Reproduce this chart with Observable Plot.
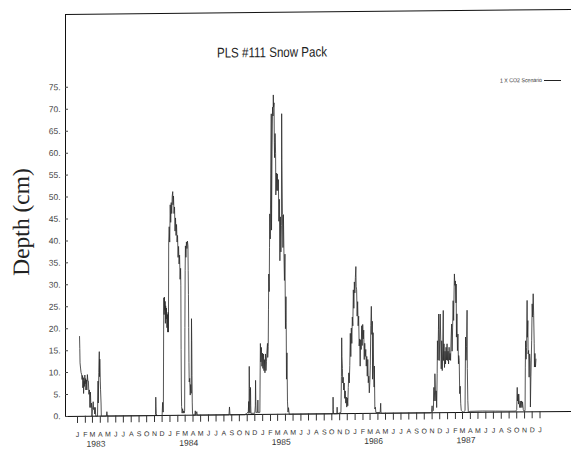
<!DOCTYPE html>
<html>
<head>
<meta charset="utf-8">
<script src="https://cdn.jsdelivr.net/npm/d3@7"></script>
<script src="https://cdn.jsdelivr.net/npm/@observablehq/plot@0.6"></script>
<style>
  html, body { margin: 0; padding: 0; background: #fff; }
  #chart svg { display: block; transform: skewY(-0.573deg); transform-origin: 285.5px 226px; }
</style>
</head>
<body>
<div id="chart"></div>
<script>
// ---- data: [day offset from 1983-01-01, snow depth in cm] ----
const startDate = "1983-01-01";
const winter1983 = [[8,18.2],[9,15.5],[10,12.2],[12,11],[14,10],[16,9.6],[18,8.4],[20,9.3],[21,6.5],[23,8.8],[24,5.2],[26,8],[27,6.8],[29,9.4],[30,7.4],[32,8.6],[33,6],[35,8.3],[37,6],[39,9.5],[41,8],[43,8],[45,5],[47,6],[49,2],[51,5.5],[53,2],[55,3],[57,0],[59,1.5],[62,3.3],[64,1.5],[66,2],[68,0.5],[70,2],[72,0],[79,0],[81,8],[82,3],[84,10],[86,14.7],[87,9],[88,13],[90,8],[91,6],[93,3],[94,0],[114,0],[116,1],[118,0]];
const winter1984 = [[305,0],[308,0.3],[309,4.2],[310,2],[311,0.5],[313,0],[334,0],[336,3],[337,0.8],[339,0.8],[340,19.5],[341,26.8],[342,23],[343,27],[345,24],[346,26],[347,21],[348,25],[350,22],[351,24.5],[353,20],[355,23],[356,19],[358,23.5],[359,19],[360,39.5],[362,43],[364,39.5],[366,48],[368,44],[370,48.5],[372,46],[374,50],[376,51],[377,48],[379,50],[381,46],[383,47.5],[385,42],[387,45],[389,41],[391,43.5],[393,39.5],[395,41],[397,36],[399,38.5],[401,34.5],[403,36.5],[405,31],[407,33.5],[408,29.5],[409,15],[410,6],[411,2],[413,0.5],[415,1.5],[417,0.5],[419,1],[421,0.5],[423,1],[424,20],[425,33],[426,38.6],[428,36],[430,39.5],[432,38],[434,39.7],[436,38.6],[437,33],[438,27.5],[439,20],[440,12],[441,7.6],[443,8.4],[445,4.6],[447,7],[449,5],[450,22],[451,17],[452,9],[453,3],[454,0.5],[456,0],[463,0],[465,1],[467,0],[471,0.8],[473,0]];
const summer1984 = [[598,0],[600,1.8],[602,0]];
const winter1985 = [[660,0],[668,0.3],[672,0.5],[674,0.3],[676,3],[677,0.5],[678,11],[679,6],[680,1],[681,0.3],[683,6.2],[684,2],[685,0.3],[700,0.3],[702,2],[703,7.8],[704,3],[705,0.5],[711,0.5],[712,3.3],[713,0.5],[720,0.5],[721,9],[722,16.2],[724,12],[726,15.3],[728,11],[730,14],[732,10.5],[734,13.8],[736,10],[738,12.5],[740,9.5],[742,13.8],[744,10],[746,12],[748,14.5],[750,16.2],[751,13],[753,15.5],[754,24],[755,32],[757,28],[758,38],[759,45.7],[761,40],[763,55],[765,68.5],[766,42],[768,60],[770,70],[772,68],[773,72.8],[774,70],[776,71],[777,62],[778,58.5],[780,64],[782,59.5],[783,50],[785,55],[787,51],[789,54.8],[791,51],[793,53.5],[795,44],[797,49],[799,35],[801,45],[803,37],[805,43],[806,68.5],[807,58],[809,45.5],[811,38],[813,45.5],[815,36.5],[817,30.5],[819,36.5],[821,19.5],[823,26.8],[824,21],[825,8],[827,14],[829,3],[831,0.5],[833,1.5],[836,0]];
const winter1986 = [[1000,0],[1008,0],[1009,3.8],[1010,1],[1011,0],[1024,0],[1025,1.5],[1026,0],[1040,0.3],[1042,8.5],[1043,17.3],[1044,13],[1046,10.3],[1047,7],[1049,8.3],[1051,5.4],[1053,7],[1055,3.5],[1057,5.2],[1059,2.4],[1061,3.8],[1063,1.5],[1065,3.6],[1067,1.8],[1069,6],[1071,9.3],[1073,7],[1075,11],[1077,18.3],[1079,13],[1081,19.5],[1083,16],[1085,22],[1087,20],[1089,28.2],[1091,24],[1093,30],[1095,27.5],[1097,31],[1099,33.5],[1100,29],[1102,28.2],[1104,22.2],[1106,25.5],[1108,20],[1110,22.2],[1112,15.4],[1114,17],[1116,10.8],[1118,16.8],[1120,14.6],[1122,20],[1124,15.5],[1126,20.3],[1128,17],[1130,19],[1132,12.3],[1134,16],[1136,13],[1138,14.6],[1140,10.8],[1142,13],[1144,8.5],[1146,12.3],[1148,7],[1150,8.5],[1152,4.7],[1154,7],[1156,11],[1158,20],[1160,24.4],[1162,18],[1164,21],[1165,7.8],[1167,18.4],[1169,10.8],[1171,6],[1172,10.8],[1174,1],[1176,1.4],[1178,0.2],[1195,0.2],[1197,2.3],[1198,0.3],[1200,0]];
const winter1987 = [[1395,0],[1398,0.3],[1400,1.6],[1401,0.3],[1405,0.5],[1407,5.8],[1408,2.7],[1410,5],[1411,8.9],[1413,5.2],[1415,2.7],[1416,5],[1418,1.2],[1420,9],[1421,16.4],[1423,12],[1425,19],[1426,22.5],[1428,11.9],[1430,17],[1432,22.5],[1434,16.6],[1436,10],[1438,16.4],[1440,9.6],[1442,15],[1444,23.3],[1445,11.9],[1447,15.7],[1449,10.3],[1451,14],[1453,11.1],[1455,14.9],[1457,12],[1459,15.7],[1461,11.9],[1463,14],[1465,11.1],[1467,14.9],[1469,12],[1471,13.5],[1473,11.9],[1475,17],[1477,20.2],[1479,14],[1481,19.5],[1483,25.5],[1485,21],[1487,28.6],[1488,31.6],[1490,29],[1492,30],[1494,25],[1495,29.3],[1496,17.2],[1498,22.5],[1500,14.1],[1502,17.9],[1504,11.1],[1505,13],[1507,11.9],[1509,4.3],[1511,6],[1513,2],[1515,0.5],[1523,0],[1530,0.5],[1532,17.2],[1534,11.9],[1536,15],[1538,23.3],[1539,10],[1541,2.7],[1543,0],[1550,0.25],[1600,0.3],[1650,0.25],[1700,0.2]];
const autumn1987 = [[1730,0.2],[1734,0.5],[1736,5.6],[1737,2.5],[1739,4],[1741,1.8],[1742,4.1],[1744,2],[1746,1],[1748,2.5],[1750,1],[1753,2.5],[1755,1],[1757,2.3],[1760,0.5],[1763,0.2],[1767,0.3],[1768,10.2],[1769,16.2],[1771,12],[1773,14.7],[1775,25.4],[1776,17],[1778,20.8],[1779,13.2],[1781,14],[1783,7.9],[1785,13.2],[1787,11.7],[1788,1.1],[1790,8],[1793,16.2],[1795,24.6],[1797,21.6],[1799,26.9],[1801,22],[1803,15.5],[1804,10.2],[1806,13.3],[1808,10.2],[1810,12]];

const yTicks = [0,5,10,15,20,25,30,35,40,45,50,55,60,65,70,75];
const monthLetters = ["J","F","M","A","M","J","J","A","S","O","N","D"];
const years = [1983,1984,1985,1986,1987];
const titleText = "PLS #111 Snow Pack";
const legendText = "1 X CO2 Scenario";
const yLabel = "Depth (cm)";

// ---- build ----
const DAY = 864e5;
const origin = Date.parse(startDate + "T00:00:00Z");
const series = [winter1983, winter1984, summer1984, winter1985, winter1986, winter1987, autumn1987]
  .flat().map(([d, v]) => ({date: new Date(origin + d * DAY), depth: v}));

const xDomain = [new Date(origin - 47.4 * DAY), new Date(origin + 1950.3 * DAY)];
const yMax = 91.6;
const monthTicks = d3.utcMonth.range(new Date(origin), new Date(Date.UTC(1988, 0, 2)));
const yearTicks = years.map(y => new Date(Date.UTC(y, 2, 15)));
const FONT = "'Liberation Sans', Arial, sans-serif";

const chart = Plot.plot({
  width: 571, height: 452,
  marginLeft: 65, marginRight: 0, marginTop: 11.8, marginBottom: 38.2,
  style: {fontFamily: FONT, background: "#fff", overflow: "visible"},
  x: {type: "utc", domain: xDomain},
  y: {domain: [0, yMax]},
  marks: [
    Plot.ruleY([0], {stroke: "#111"}),
    Plot.ruleY([yMax], {stroke: "#111"}),
    Plot.ruleX([xDomain[0]], {stroke: "#111"}),
    Plot.axisY({ticks: yTicks, tickFormat: d => d + ".", tickSize: -3, tickPadding: 8, fontSize: 8.5, color: "#444", label: null}),
    Plot.axisX({ticks: monthTicks, tickFormat: d => monthLetters[d.getUTCMonth()], tickSize: 7, tickPadding: 8.5, fontSize: 7, color: "#333", label: null}),
    Plot.axisX({ticks: yearTicks, tickFormat: d => String(d.getUTCFullYear()), tickSize: 0, tickPadding: 24.5, fontSize: 8.5, color: "#333", label: null}),
    Plot.line(series, {x: "date", y: "depth", stroke: "#2a2a2a", strokeWidth: 0.8})
  ]
});

const svg = d3.select(chart);
svg.append("text").attr("x", 272).attr("y", 56.9).attr("text-anchor", "middle")
  .attr("font-family", FONT).attr("font-size", 14).attr("fill", "#222")
  .attr("textLength", 110).attr("lengthAdjust", "spacingAndGlyphs").text(titleText);
svg.append("text").attr("x", 542).attr("y", 84.6).attr("text-anchor", "end")
  .attr("font-family", FONT).attr("font-size", 5.8).attr("fill", "#333")
  .attr("textLength", 42).attr("lengthAdjust", "spacingAndGlyphs").text(legendText);
svg.append("line").attr("x1", 544).attr("x2", 561).attr("y1", 83.2).attr("y2", 83.2)
  .attr("stroke", "#222").attr("stroke-width", 1);
svg.append("text").attr("transform", "translate(29,219.4) rotate(-90)").attr("text-anchor", "middle")
  .attr("font-family", "'Liberation Serif', 'Times New Roman', serif").attr("font-size", 23.5)
  .attr("fill", "#222").text(yLabel);

document.getElementById("chart").appendChild(chart);
</script>
</body>
</html>
